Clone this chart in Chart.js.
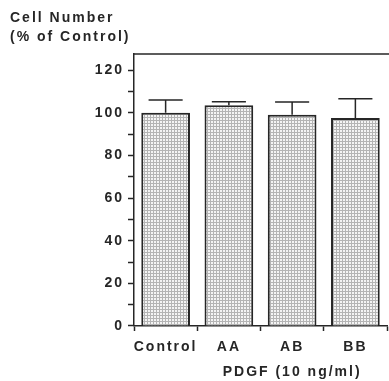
<!DOCTYPE html>
<html>
<head>
<meta charset="utf-8">
<script src="https://cdn.jsdelivr.net/npm/chart.js@4.4.1/dist/chart.umd.min.js"></script>
<style>
  html, body { margin: 0; padding: 0; background: #fff; }
</style>
</head>
<body>
<canvas id="chartCanvas" width="389" height="381"></canvas>
<script>
// values
const categories = ['Control', 'AA', 'AB', 'BB'];
const cellNumber = [100, 103.5, 99, 97.5];
const errorUp = [6, 1.7, 6, 9];
const yTickLabels = [0, 20, 40, 60, 80, 100, 120];
const groupLabel = 'PDGF (10 ng/ml)';

const ink = '#262626';
const fontFamily = '"Liberation Sans", Arial, Helvetica, sans-serif';

const ctx = document.getElementById('chartCanvas').getContext('2d');

// fine dotted screen like the printed bars
function screenPattern() {
  const c = document.createElement('canvas');
  c.width = 3; c.height = 3;
  const g = c.getContext('2d');
  g.fillStyle = '#f4f4f4';
  g.fillRect(0, 0, 3, 3);
  g.fillStyle = '#b4b4b4';
  g.fillRect(0, 0, 3, 1);
  g.fillRect(0, 0, 1, 3);
  return ctx.createPattern(c, 'repeat');
}

const spacing = {
  id: 'spacing',
  beforeUpdate(chart) { chart.ctx.letterSpacing = '2px'; },
  beforeDraw(chart) { chart.ctx.letterSpacing = '2px'; }
};

const errorBars = {
  id: 'errorBars',
  afterDatasetsDraw(chart) {
    const c = chart.ctx;
    const y = chart.scales.y;
    const meta = chart.getDatasetMeta(0);
    c.save();
    c.strokeStyle = ink;
    c.lineWidth = 1.5;
    meta.data.forEach((bar, i) => {
      const top = y.getPixelForValue(cellNumber[i] + errorUp[i]);
      const half = bar.width * 0.35;
      c.beginPath();
      c.moveTo(bar.x, bar.y);
      c.lineTo(bar.x, top);
      c.moveTo(bar.x - half, top);
      c.lineTo(bar.x + half, top);
      c.stroke();
    });
    c.restore();
  }
};

const frame = {
  id: 'frame',
  afterDraw(chart) {
    const c = chart.ctx;
    const a = chart.chartArea;
    c.save();
    c.strokeStyle = ink;
    c.lineWidth = 1.5;
    c.beginPath();
    c.moveTo(a.left, a.top);
    c.lineTo(chart.width, a.top);
    c.stroke();
    // group label under AB
    c.letterSpacing = '2px';
    c.fillStyle = ink;
    c.font = 'bold 14px ' + fontFamily;
    c.textAlign = 'center';
    c.textBaseline = 'middle';
    c.fillText(groupLabel, chart.scales.x.getPixelForValue(2), 372);
    c.restore();
  }
};

new Chart(ctx, {
  type: 'bar',
  data: {
    labels: categories,
    datasets: [{
      data: cellNumber,
      backgroundColor: screenPattern(),
      borderColor: ink,
      borderWidth: 2,
      barPercentage: 0.77,
      categoryPercentage: 1.0
    }]
  },
  options: {
    responsive: false,
    animation: false,
    layout: { padding: { left: 10, right: 2, top: 0, bottom: 0 } },
    plugins: {
      legend: { display: false },
      tooltip: { enabled: false },
      title: {
        display: true,
        text: ['Cell Number', '(% of Control)'],
        align: 'start',
        color: ink,
        font: { family: fontFamily, size: 14, weight: 'bold', lineHeight: 1.36 },
        padding: { top: 9, bottom: 7 }
      }
    },
    scales: {
      x: {
        grid: { drawOnChartArea: false, tickLength: 5, tickColor: ink, tickWidth: 1.5 },
        border: { color: ink, width: 1.5 },
        ticks: { color: ink, autoSkip: false, maxRotation: 0, padding: 8, font: { family: fontFamily, size: 14, weight: 'bold' } },
        afterFit: s => { s.height = 55; }
      },
      y: {
        min: 0,
        max: 127.5,
        grid: {
          drawOnChartArea: false,
          tickLength: 6,
          tickWidth: 1.5,
          tickColor: c => (c.tick && c.tick.value % 10 === 0 ? ink : 'rgba(0,0,0,0)')
        },
        border: { color: ink, width: 1.5 },
        ticks: {
          stepSize: 10,
          autoSkip: false,
          padding: 4,
          color: ink,
          font: { family: fontFamily, size: 14, weight: 'bold' },
          callback: v => (yTickLabels.includes(v) ? v : '')
        },
        afterFit: s => { s.width = 124; }
      }
    }
  },
  plugins: [spacing, errorBars, frame]
});
</script>
</body>
</html>
